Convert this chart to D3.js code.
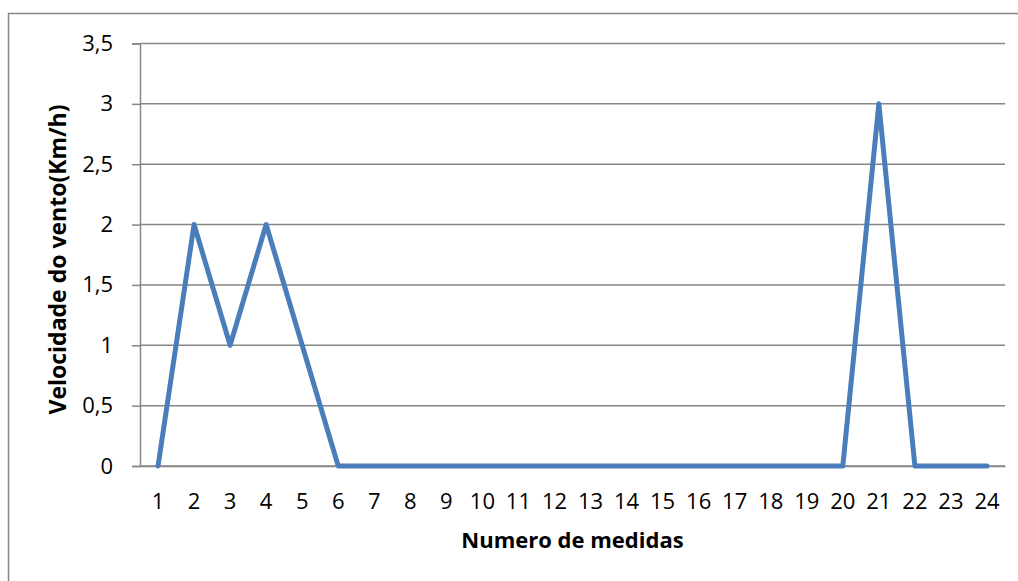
<!DOCTYPE html>
<html>
<head>
<meta charset="utf-8">
<script src="https://cdn.jsdelivr.net/npm/d3@7"></script>
<style>
  html, body { margin: 0; padding: 0; background: #fff; }
  svg { display: block; }
  text { font-family: "Open Sans", "Noto Sans", sans-serif; fill: #000; }
</style>
</head>
<body>
<svg id="chart" width="1018" height="581"></svg>
<script>
// Wind speed per measurement
const measures = d3.range(1, 25).map(String);
const windSpeed = [0, 2, 1, 2, 1, 0, 0, 0, 0, 0, 0, 0, 0, 0, 0, 0, 0, 0, 0, 0, 3, 0, 0, 0];
const yTicks = [0, 0.5, 1, 1.5, 2, 2.5, 3, 3.5];
const xTitle = "Numero de medidas";
const yTitle = "Velocidade do vento(Km/h)";

const svg = d3.select("#chart");
const plot = { left: 140, right: 1005, top: 43.5, bottom: 466 };

// Outer chart frame
svg.append("rect")
  .attr("x", 8.5).attr("y", 13.5)
  .attr("width", 1030).attr("height", 600)
  .attr("fill", "none").attr("stroke", "#868686").attr("stroke-width", 1.5);

const x = d3.scaleBand().domain(measures).range([plot.left, plot.right]);
const y = d3.scaleLinear().domain([0, 3.5]).range([plot.bottom, plot.top]);

// Horizontal gridlines
svg.append("g")
  .selectAll("line")
  .data(yTicks)
  .join("line")
  .attr("x1", plot.left).attr("x2", plot.right)
  .attr("y1", d => y(d)).attr("y2", d => y(d))
  .attr("stroke", "#868686").attr("stroke-width", 1.5);

// Y axis
const fmt = d => String(d).replace(".", ",");
const yAxis = svg.append("g")
  .attr("transform", `translate(${plot.left},0)`)
  .call(d3.axisLeft(y).tickValues(yTicks).tickFormat(fmt).tickSize(8).tickPadding(19));
yAxis.select(".domain").attr("stroke", "#868686").attr("stroke-width", 1.5);
yAxis.selectAll(".tick line").attr("stroke", "#868686").attr("stroke-width", 1.5);
yAxis.selectAll(".tick text").style("font-size", "22px").attr("fill", "#000");

// X axis
const xAxis = svg.append("g")
  .attr("transform", `translate(0,${plot.bottom})`)
  .call(d3.axisBottom(x).tickSize(0).tickPadding(27).tickSizeOuter(0));
xAxis.select(".domain").attr("stroke", "#868686").attr("stroke-width", 1.5);
xAxis.selectAll(".tick text").style("font-size", "22px").attr("fill", "#000");

// Series line
const line = d3.line()
  .x((d, i) => x(measures[i]) + x.bandwidth() / 2)
  .y(d => y(d));
svg.append("path")
  .datum(windSpeed)
  .attr("d", line)
  .attr("fill", "none")
  .attr("stroke", "#4A7EBB")
  .attr("stroke-width", 5)
  .attr("stroke-linejoin", "round")
  .attr("stroke-linecap", "round");

// Axis titles
svg.append("text")
  .attr("x", (plot.left + plot.right) / 2).attr("y", 548)
  .attr("text-anchor", "middle")
  .style("font-size", "22px").style("font-weight", "bold")
  .text(xTitle);

svg.append("text")
  .attr("transform", "translate(66,259.5) rotate(-90)")
  .attr("text-anchor", "middle")
  .style("font-size", "23px").style("font-weight", "bold")
  .text(yTitle);
</script>
</body>
</html>
